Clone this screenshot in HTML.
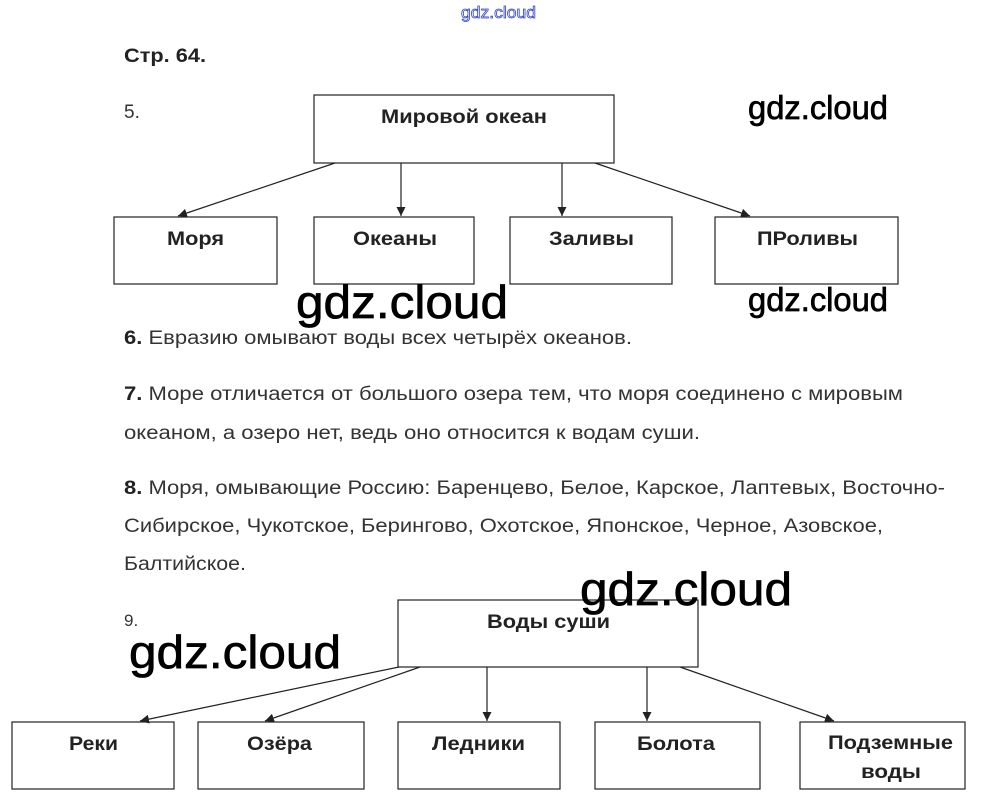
<!DOCTYPE html>
<html><head><meta charset="utf-8"><style>
html,body{margin:0;padding:0;background:#fff;width:997px;height:809px;overflow:hidden}
svg{display:block}
.t{font-family:"Liberation Sans",Arial,sans-serif;font-size:19px;fill:#333}
.b{font-weight:bold;fill:#222}
.w{font-family:"Liberation Sans",sans-serif;fill:#000;stroke:#000;stroke-width:0.7}
</style></head><body>
<svg width="997" height="809" viewBox="0 0 997 809" xmlns="http://www.w3.org/2000/svg">
<defs><marker id="a" viewBox="0 0 10 10" refX="10" refY="5" markerWidth="9" markerHeight="9" orient="auto" markerUnits="userSpaceOnUse"><path d="M0,0 L10,5 L0,10 z" fill="#222"/></marker></defs>
<text x="461" y="18" font-family="Liberation Sans,sans-serif" font-size="17" fill="#fff" stroke="#3344cc" stroke-width="0.8" textLength="75" lengthAdjust="spacingAndGlyphs">gdz.cloud</text>
<text x="124" y="62" class="t b" font-size="19" textLength="82" lengthAdjust="spacingAndGlyphs">Стр. 64.</text>
<text x="124" y="118" class="t" font-size="17">5.</text>
<g fill="none" stroke="#222" stroke-width="1.2">
<rect x="314" y="95" width="300" height="68"/>
<rect x="114" y="217" width="163" height="67"/>
<rect x="314" y="217" width="160" height="67"/>
<rect x="510" y="217" width="162" height="67"/>
<rect x="715" y="217" width="183" height="67"/>
<line x1="335" y1="163" x2="178" y2="216" marker-end="url(#a)"/>
<line x1="401" y1="163" x2="401" y2="216" marker-end="url(#a)"/>
<line x1="562" y1="163" x2="562" y2="216" marker-end="url(#a)"/>
<line x1="595" y1="163" x2="750" y2="216" marker-end="url(#a)"/>
<rect x="398" y="600" width="300" height="67"/>
<rect x="12" y="722" width="162" height="67"/>
<rect x="198" y="722" width="166" height="67"/>
<rect x="398" y="722" width="162" height="67"/>
<rect x="595" y="722" width="165" height="67"/>
<rect x="800" y="722" width="165" height="67"/>
<line x1="399" y1="667" x2="140" y2="721" marker-end="url(#a)"/>
<line x1="420" y1="667" x2="265" y2="721" marker-end="url(#a)"/>
<line x1="487" y1="667" x2="487" y2="721" marker-end="url(#a)"/>
<line x1="647" y1="667" x2="647" y2="721" marker-end="url(#a)"/>
<line x1="680" y1="667" x2="834" y2="721" marker-end="url(#a)"/>
</g>
<g class="t b" font-size="20">
<text x="381" y="123" textLength="166" lengthAdjust="spacingAndGlyphs">Мировой океан</text>
<text x="167" y="245" textLength="57" lengthAdjust="spacingAndGlyphs">Моря</text>
<text x="353" y="245" textLength="84" lengthAdjust="spacingAndGlyphs">Океаны</text>
<text x="549" y="245" textLength="85" lengthAdjust="spacingAndGlyphs">Заливы</text>
<text x="757" y="245" textLength="101" lengthAdjust="spacingAndGlyphs">ПРоливы</text>
<text x="487" y="628" textLength="123" lengthAdjust="spacingAndGlyphs">Воды суши</text>
<text x="69" y="750" textLength="49" lengthAdjust="spacingAndGlyphs">Реки</text>
<text x="247" y="750" textLength="65" lengthAdjust="spacingAndGlyphs">Озёра</text>
<text x="432" y="750" textLength="93" lengthAdjust="spacingAndGlyphs">Ледники</text>
<text x="637" y="750" textLength="78" lengthAdjust="spacingAndGlyphs">Болота</text>
<text x="828" y="749" textLength="125" lengthAdjust="spacingAndGlyphs">Подземные</text>
<text x="861" y="778" textLength="60" lengthAdjust="spacingAndGlyphs">воды</text>
</g>
<g class="t">
<text x="124" y="344" textLength="508" lengthAdjust="spacingAndGlyphs"><tspan class="b">6.</tspan> Евразию омывают воды всех четырёх океанов.</text>
<text x="124" y="400" textLength="779" lengthAdjust="spacingAndGlyphs"><tspan class="b">7.</tspan> Море отличается от большого озера тем, что моря соединено с мировым</text>
<text x="124" y="439" textLength="576" lengthAdjust="spacingAndGlyphs">океаном, а озеро нет, ведь оно относится к водам суши.</text>
<text x="124" y="494" textLength="821" lengthAdjust="spacingAndGlyphs"><tspan class="b">8.</tspan> Моря, омывающие Россию: Баренцево, Белое, Карское, Лаптевых, Восточно-</text>
<text x="124" y="532" textLength="759" lengthAdjust="spacingAndGlyphs">Сибирское, Чукотское, Берингово, Охотское, Японское, Черное, Азовское,</text>
<text x="124" y="570" textLength="122" lengthAdjust="spacingAndGlyphs">Балтийское.</text>
<text x="124" y="626" font-size="17">9.</text>
</g>
<text x="748" y="119" class="w" font-size="33" textLength="140" lengthAdjust="spacingAndGlyphs">gdz.cloud</text>
<text x="748" y="311" class="w" font-size="33" textLength="140" lengthAdjust="spacingAndGlyphs">gdz.cloud</text>
<text x="296" y="318" class="w" font-size="46" textLength="212" lengthAdjust="spacingAndGlyphs">gdz.cloud</text>
<text x="580" y="605" class="w" font-size="46" textLength="212" lengthAdjust="spacingAndGlyphs">gdz.cloud</text>
<text x="129" y="668" class="w" font-size="46" textLength="212" lengthAdjust="spacingAndGlyphs">gdz.cloud</text>
</svg>
</body></html>
